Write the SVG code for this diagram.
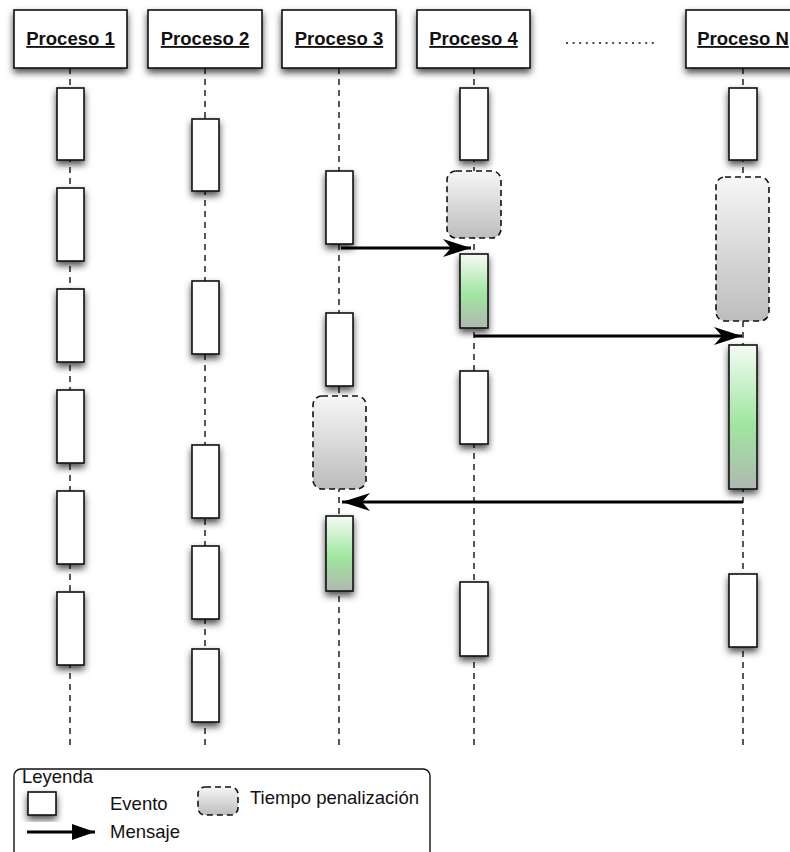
<svg xmlns="http://www.w3.org/2000/svg" width="790" height="852" viewBox="0 0 790 852">
  <defs>
    <filter id="shadow" x="-60%" y="-20%" width="220%" height="150%">
      <feDropShadow dx="0" dy="4" stdDeviation="3.5" flood-color="#000" flood-opacity="0.7"/>
    </filter>
    <linearGradient id="gradGreen" x1="0" y1="0" x2="0" y2="1">
      <stop offset="0" stop-color="#f4fbf4"/>
      <stop offset="0.55" stop-color="#9fe6a0"/>
      <stop offset="1" stop-color="#b0b8b0"/>
    </linearGradient>
    <linearGradient id="gradGray" x1="0" y1="0" x2="0" y2="1">
      <stop offset="0" stop-color="#f6f6f6"/>
      <stop offset="1" stop-color="#bdbdbd"/>
    </linearGradient>
    <marker id="barb" markerUnits="userSpaceOnUse" markerWidth="30" markerHeight="20" viewBox="0 0 30 20" refX="28" refY="10" orient="auto">
      <path d="M0,1 L28,10 L0,19 L8,10 Z" fill="#000"/>
    </marker>
    <marker id="tri" markerUnits="userSpaceOnUse" markerWidth="24" markerHeight="18" viewBox="0 0 24 18" refX="23" refY="9" orient="auto">
      <path d="M0,1 L23,9 L0,17 Z" fill="#000"/>
    </marker>
  </defs>
  <style>
    .head { fill: #fff; stroke: #111; stroke-width: 1.6; filter: url(#shadow); }
    .htxt { font-family: "Liberation Sans", Arial, sans-serif; font-weight: bold; font-size: 18.5px; text-decoration: underline; text-anchor: middle; fill: #111; }
    .life { stroke: #111; stroke-width: 1.4; stroke-dasharray: 6 5; fill: none; }
    .ev { fill: #fff; stroke: #111; stroke-width: 1.6; filter: url(#shadow); }
    .evg { fill: url(#gradGreen); stroke: #111; stroke-width: 1.6; filter: url(#shadow); }
    .pen { fill: url(#gradGray); stroke: #111; stroke-width: 1.6; stroke-dasharray: 6 4; }
    .msg { stroke: #000; stroke-width: 3; fill: none; marker-end: url(#barb); }
    .lt { font-family: "Liberation Sans", Arial, sans-serif; font-size: 18.5px; fill: #111; }
  </style>

  <!-- lifelines -->
  <g id="lifelines">
    <line class="life" x1="70" y1="68" x2="70" y2="748"/>
    <line class="life" x1="205" y1="68" x2="205" y2="748"/>
    <line class="life" x1="339" y1="68" x2="339" y2="748"/>
    <line class="life" x1="474" y1="68" x2="474" y2="748"/>
    <line class="life" x1="743" y1="68" x2="743" y2="748"/>
  </g>

  <!-- process headers -->
  <g id="proceso1">
    <rect class="head" x="14" y="10" width="113" height="58"/>
    <text class="htxt" x="70.5" y="45">Proceso 1</text>
  </g>
  <g id="proceso2">
    <rect class="head" x="148" y="10" width="114" height="58"/>
    <text class="htxt" x="205" y="45">Proceso 2</text>
  </g>
  <g id="proceso3">
    <rect class="head" x="282" y="10" width="114" height="58"/>
    <text class="htxt" x="339" y="45">Proceso 3</text>
  </g>
  <g id="proceso4">
    <rect class="head" x="417" y="10" width="113" height="58"/>
    <text class="htxt" x="473.5" y="45">Proceso 4</text>
  </g>
  <g id="procesoN">
    <rect class="head" x="686" y="10" width="114" height="58"/>
    <text class="htxt" x="743" y="45">Proceso N</text>
  </g>
  <g id="ellipsis">
    <line x1="566" y1="43" x2="658" y2="43" stroke="#111" stroke-width="1.4" stroke-dasharray="2 4.6"/>
  </g>

  <!-- events of Proceso 1 -->
  <g id="p1-events">
    <rect class="ev" x="57" y="88" width="27" height="72"/>
    <rect class="ev" x="57" y="188" width="27" height="73"/>
    <rect class="ev" x="57" y="289" width="27" height="73"/>
    <rect class="ev" x="57" y="390" width="27" height="73"/>
    <rect class="ev" x="57" y="491" width="27" height="73"/>
    <rect class="ev" x="57" y="592" width="27" height="73"/>
  </g>

  <!-- events of Proceso 2 -->
  <g id="p2-events">
    <rect class="ev" x="192" y="119" width="27" height="72"/>
    <rect class="ev" x="192" y="281" width="27" height="73"/>
    <rect class="ev" x="192" y="445" width="27" height="73"/>
    <rect class="ev" x="192" y="546" width="27" height="73"/>
    <rect class="ev" x="192" y="649" width="27" height="73"/>
  </g>

  <!-- events of Proceso 3 -->
  <g id="p3-events">
    <rect class="ev" x="326" y="171" width="27" height="73"/>
    <rect class="ev" x="326" y="313" width="27" height="73"/>
    <rect class="pen" x="313" y="396" width="53" height="93" rx="9"/>
    <rect class="evg" x="326" y="516" width="27" height="75"/>
  </g>

  <!-- events of Proceso 4 -->
  <g id="p4-events">
    <rect class="ev" x="460" y="88" width="28" height="72"/>
    <rect class="pen" x="447" y="171" width="54" height="67" rx="9"/>
    <rect class="evg" x="460" y="254" width="28" height="74"/>
    <rect class="ev" x="460" y="371" width="28" height="73"/>
    <rect class="ev" x="460" y="582" width="28" height="74"/>
  </g>

  <!-- events of Proceso N -->
  <g id="pN-events">
    <rect class="ev" x="729" y="88" width="28" height="72"/>
    <rect class="pen" x="716" y="177" width="53" height="144" rx="9"/>
    <rect class="evg" x="729" y="345" width="28" height="144"/>
    <rect class="ev" x="729" y="574" width="28" height="73"/>
  </g>

  <!-- messages -->
  <g id="connectors">
    <line class="msg" x1="341" y1="248" x2="471" y2="248"/>
    <line class="msg" x1="474" y1="336" x2="742" y2="336"/>
    <line class="msg" x1="743" y1="502" x2="342" y2="502"/>
  </g>

  <!-- legend -->
  <g id="leyenda">
    <rect x="14" y="769" width="416" height="100" rx="7" fill="#fff" stroke="#111" stroke-width="1.4"/>
    <text class="lt" x="22" y="783" font-size="14">Leyenda</text>
    <rect class="ev" x="28" y="792" width="28" height="23"/>
    <text class="lt" x="110" y="810">Evento</text>
    <rect class="pen" x="198" y="787" width="40" height="28" rx="7" stroke-dasharray="5 3.5"/>
    <text class="lt" x="250" y="804">Tiempo penalización</text>
    <line x1="27" y1="832" x2="95" y2="832" stroke="#000" stroke-width="3" marker-end="url(#tri)"/>
    <text class="lt" x="110" y="838">Mensaje</text>
  </g>
</svg>
